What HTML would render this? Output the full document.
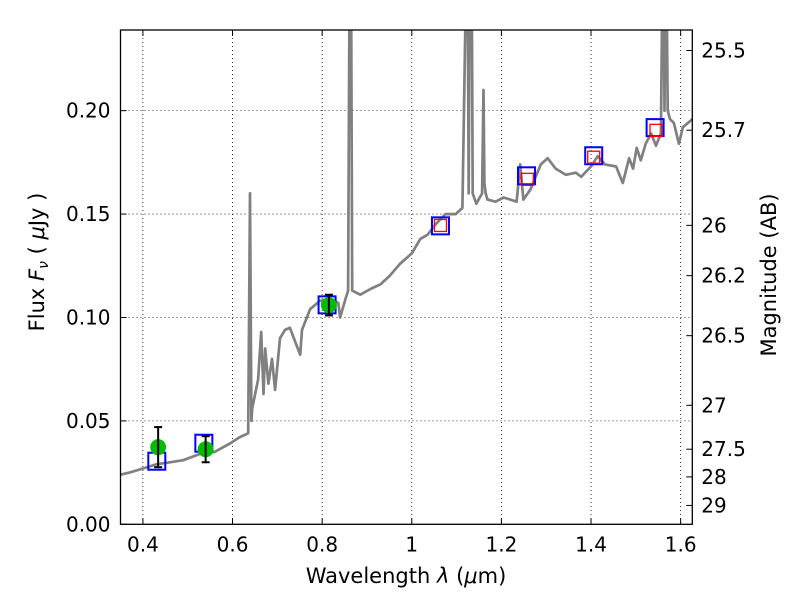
<!DOCTYPE html>
<html><head><meta charset="utf-8"><style>
body{margin:0;background:#fff;}
svg{display:block;font-family:"DejaVu Sans","Liberation Sans",sans-serif;}
</style></head><body>
<svg id="chart" width="800" height="600" viewBox="0 0 800 600">
<rect width="800" height="600" fill="#fff"/>
<g id="grid"></g>
<g id="spec"></g>
<g id="marks"></g>
<g id="axes"></g>
</svg>
<script>
const specWave=[0.349,0.37,0.4,0.43,0.46,0.49,0.527,0.56,0.594,0.615,0.635,0.639,0.642,0.644,0.657,0.664,0.669,0.673,0.680,0.688,0.695,0.706,0.717,0.728,0.742,0.751,0.755,0.773,0.795,0.818,0.836,0.840,0.852,0.858,0.862,0.864,0.867,0.885,0.91,0.930,0.95,0.974,1.0,1.019,1.035,1.053,1.075,1.098,1.113,1.124,1.127,1.130,1.133,1.136,1.144,1.157,1.160,1.162,1.165,1.169,1.187,1.205,1.220,1.234,1.242,1.249,1.265,1.288,1.303,1.321,1.344,1.366,1.378,1.400,1.415,1.431,1.456,1.471,1.485,1.494,1.502,1.511,1.522,1.534,1.545,1.556,1.561,1.564,1.567,1.571,1.576,1.585,1.596,1.605,1.627];
const specFlux=[0.024,0.025,0.027,0.029,0.030,0.031,0.034,0.035,0.039,0.042,0.044,0.160,0.050,0.056,0.070,0.093,0.063,0.085,0.068,0.080,0.065,0.090,0.094,0.095,0.087,0.082,0.094,0.104,0.108,0.109,0.107,0.100,0.109,0.113,0.30,0.30,0.113,0.111,0.114,0.116,0.120,0.126,0.131,0.138,0.140,0.145,0.150,0.150,0.153,0.30,0.16,0.30,0.30,0.16,0.155,0.160,0.21,0.165,0.16,0.157,0.156,0.158,0.157,0.156,0.174,0.157,0.162,0.174,0.177,0.172,0.169,0.170,0.168,0.173,0.178,0.174,0.173,0.165,0.177,0.172,0.182,0.176,0.184,0.189,0.183,0.189,0.30,0.20,0.30,0.20,0.196,0.194,0.184,0.192,0.196];
const blueWave=[0.431,0.536,0.811,1.064,1.256,1.406,1.543];
const blueFlux=[0.0305,0.0392,0.1061,0.1443,0.1685,0.1782,0.1918];
const redWave=[1.064,1.258,1.406,1.545];
const redFlux=[0.1445,0.1668,0.1775,0.1905];
const obsWave=[0.434,0.540,0.815];
const obsFlux=[0.0373,0.0363,0.106];
const obsErr=[0.0097,0.0063,0.005];
const xTicks=[0.4,0.6,0.8,1,1.2,1.4,1.6];
const xTickLabels=["0.4","0.6","0.8","1","1.2","1.4","1.6"];
const yTicks=[0,0.05,0.10,0.15,0.20];
const yTickLabels=["0.00","0.05","0.10","0.15","0.20"];
const magTicks=[25.5,25.7,26,26.2,26.5,27,27.5,28,29];
const magTickLabels=["25.5","25.7","26","26.2","26.5","27","27.5","28","29"];

const L=120.5,R=692.3,T=30,B=524.3;
const X0=0.35,X1=1.626,Y0=0,Y1=0.239;
const sx=v=>L+(v-X0)/(X1-X0)*(R-L);
const sy=v=>B-(v-Y0)/(Y1-Y0)*(B-T);
const NS="http://www.w3.org/2000/svg";
function mk(tag,parent,attrs){const e=document.createElementNS(NS,tag);for(const k in attrs)e.setAttribute(k,attrs[k]);parent.appendChild(e);return e;}
const grid=document.getElementById('grid'),spec=document.getElementById('spec'),marks=document.getElementById('marks'),axes=document.getElementById('axes');

const defs=mk('defs',document.getElementById('chart'),{});
const cp=mk('clipPath',defs,{id:'clip'});mk('rect',cp,{x:L,y:T,width:R-L,height:B-T});
spec.setAttribute('clip-path','url(#clip)');

xTicks.forEach((t,i)=>{
 const gl=mk('line',grid,{x1:sx(t),x2:sx(t),y1:T,y2:B,stroke:'#000','stroke-width':0.8,'stroke-dasharray':'1,3'});
 
 
 mk('line',axes,{x1:sx(t),x2:sx(t),y1:B,y2:B-6,stroke:'#000'});
 mk('line',axes,{x1:sx(t),x2:sx(t),y1:T,y2:T+6,stroke:'#000'});
 const tx=mk('text',axes,{x:sx(t),y:B+27,'font-size':20,'text-anchor':'middle'});tx.textContent=xTickLabels[i];
 
 
});
yTicks.forEach((t,i)=>{
 if(t>0){const gl=mk('line',grid,{x1:L,x2:R,y1:sy(t),y2:sy(t),stroke:'#000','stroke-width':0.8,'stroke-dasharray':'1,3'});
 
 }
 mk('line',axes,{x1:L,x2:L+6,y1:sy(t),y2:sy(t),stroke:'#000'});
 const tx=mk('text',axes,{x:L-10,y:sy(t)+7,'font-size':20,'text-anchor':'end'});tx.textContent=yTickLabels[i];
 
 
});
magTicks.forEach((m,i)=>{
 const f=Math.pow(10,(23.9-m)/2.5);const y=sy(f);
 mk('line',axes,{x1:R,x2:R-6,y1:y,y2:y,stroke:'#000'});
 const tx=mk('text',axes,{x:R+9,y:y+7,'font-size':20});tx.textContent=magTickLabels[i];
 
 
});

let d='';specWave.forEach((w,i)=>{d+=(i?'L':'M')+sx(w).toFixed(1)+','+sy(specFlux[i]).toFixed(1);});
const pl=mk('path',spec,{d:d,fill:'none',stroke:'#808080','stroke-width':2.7,'stroke-linejoin':'round'});



blueWave.forEach((w,i)=>{
 const r=mk('rect',marks,{x:sx(w)-8.5,y:sy(blueFlux[i])-8.5,width:17,height:17,fill:'none',stroke:'#0000ff','stroke-width':2});
 
 
});
redWave.forEach((w,i)=>{
 const r=mk('rect',marks,{x:sx(w)-6,y:sy(redFlux[i])-6,width:12,height:12,fill:'none',stroke:'#ff0000','stroke-width':1.3});
 
 
});
obsWave.forEach((w,i)=>{
 const x=sx(w),y=sy(obsFlux[i]);
 const c=mk('circle',marks,{cx:x,cy:y,r:8,fill:'#00bb00'});
 
 
 const y1=sy(obsFlux[i]+obsErr[i]),y2=sy(obsFlux[i]-obsErr[i]);
 const g=mk('g',marks,{stroke:'#000','stroke-width':2});
 
 
 mk('line',g,{x1:x,x2:x,y1:y1,y2:y2});
 mk('line',g,{x1:x-4,x2:x+4,y1:y1,y2:y1});
 mk('line',g,{x1:x-4,x2:x+4,y1:y2,y2:y2});
});

const fr=mk('rect',axes,{x:L,y:T,width:R-L,height:B-T,fill:'none',stroke:'#000','stroke-width':1.3});


const xl=mk('text',axes,{x:406,y:583,'font-size':21,'text-anchor':'middle'});
xl.innerHTML='Wavelength  <tspan font-style="italic">λ</tspan> (<tspan font-style="italic">μ</tspan>m)';


const yl=mk('text',axes,{x:0,y:0,'font-size':21,'text-anchor':'middle',transform:'translate(44,262) rotate(-90)'});
yl.innerHTML='Flux  <tspan font-style="italic">F</tspan><tspan font-style="italic" font-size="14" dy="4">ν</tspan><tspan dy="-4">  ( </tspan><tspan font-style="italic">μ</tspan>Jy )';


const ml=mk('text',axes,{x:0,y:0,'font-size':21,'text-anchor':'middle',transform:'translate(776,275) rotate(-90)'});
ml.textContent='Magnitude (AB)';


</script>
</body></html>
